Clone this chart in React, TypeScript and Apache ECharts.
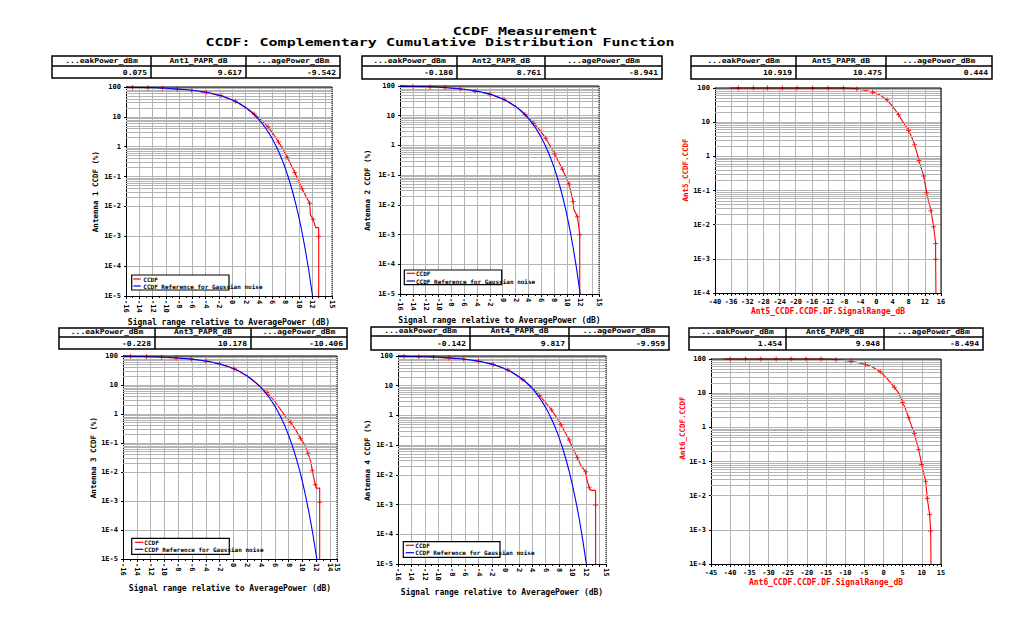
import React, { useEffect, useRef } from 'react';
import * as echarts from 'echarts';

const FONT = '"DejaVu Sans Mono", "Liberation Mono", monospace';
const GRID_C = '#b4b4b4';
const RED = '#ff0000';
const BLUE = '#0000ff';

// ---------------- texts ----------------
const titleMain = 'CCDF Measurement';
const titleSub = 'CCDF: Complementary Cumulative Distribution Function';
const headPeak = '...eakPower_dBm';
const headAvg = '...agePower_dBm';
const paprHeaders = ['Ant1_PAPR_dB', 'Ant2_PAPR_dB', 'Ant5_PAPR_dB', 'Ant3_PAPR_dB', 'Ant4_PAPR_dB', 'Ant6_PAPR_dB'];
const peakValues = ['0.075', '-0.180', '10.919', '-0.228', '-0.142', '1.454'];
const paprValues = ['9.617', '8.761', '10.475', '10.178', '9.817', '9.948'];
const avgValues = ['-9.542', '-8.941', '0.444', '-10.406', '-9.959', '-8.494'];
const yAxisNames = ['Antenna 1 CCDF (%)', 'Antenna 2 CCDF (%)', 'Ant5_CCDF.CCDF', 'Antenna 3 CCDF (%)', 'Antenna 4 CCDF (%)', 'Ant6_CCDF.CCDF'];
const xAxisNames = [
  'Signal range relative to AveragePower (dB)',
  'Signal range relative to AveragePower (dB)',
  'Ant5_CCDF.CCDF.DF.SignalRange_dB',
  'Signal range relative to AveragePower (dB)',
  'Signal range relative to AveragePower (dB)',
  'Ant6_CCDF.CCDF.DF.SignalRange_dB',
];
const legendNames = ['CCDF', 'CCDF Reference for Gaussian noise'];

// ---------------- data: [dB, CCDF %, marker] ----------------
const gaussianRef = [
  [-16, 97.5], [-14, 96.1], [-12, 93.9], [-10, 90.5], [-8, 85.4], [-6, 77.8], [-4, 67.2], [-3, 60.5],
  [-2, 53.2], [-1, 45.2], [0, 36.8], [1, 28.4], [2, 20.5], [3, 13.6], [4, 8.1], [4.5, 5.95], [5, 4.23],
  [5.5, 2.86], [6, 1.87], [6.5, 1.14], [7, 0.666], [7.5, 0.361], [8, 0.182], [8.5, 0.0843], [9, 0.0355],
  [9.5, 0.0135], [10, 0.00454], [10.5, 0.00134], [11, 0.00034], [11.5, 0.000073], [12, 0.000013], [12.07, 0.00001],
];

const ant1Ccdf = [
  [-16, 99.5, 0], [-15, 96.5, 1], [-12.7, 93.5, 1], [-10.5, 90, 1], [-8.3, 84, 1], [-6.1, 76.5, 1],
  [-3.9, 65.5, 1], [-1.7, 50.5, 1], [0.5, 33.5, 1], [2.4, 18, 0], [3.3, 12.5, 1], [4.3, 7.9, 0],
  [5.4, 4.55, 1], [6.2, 2.6, 0], [6.95, 1.43, 1], [7.6, 0.85, 0], [8.25, 0.448, 1], [8.8, 0.26, 0],
  [9.4, 0.137, 1], [10.0, 0.068, 0], [10.5, 0.0389, 1], [11.1, 0.021, 0], [11.65, 0.0129, 1],
  [11.75, 0.0052, 0], [12.15, 0.0037, 1], [12.55, 0.00195, 0], [13.0, 0.00195, 0], [13.0, 0.00098, 1],
  [13.0, 0.00001, 0],
];

const ant2Ccdf = [
  [-16, 99.5, 0], [-14, 96.5, 1], [-11.3, 93, 1], [-9, 88.5, 1], [-6.6, 79.5, 1], [-4.3, 66.5, 1],
  [-2.0, 52.5, 1], [0.2, 35.5, 1], [2.3, 18.5, 0], [3.5, 11, 1], [4.84, 5.55, 1], [5.8, 3.2, 0],
  [6.71, 1.73, 1], [7.4, 0.95, 0], [8.1, 0.514, 1], [8.7, 0.29, 0], [9.3, 0.157, 1], [9.8, 0.09, 0],
  [10.33, 0.0504, 1], [10.96, 0.0129, 1], [11.06, 0.00745, 0], [11.63, 0.004, 1], [11.8, 0.0022, 0],
  [12.0, 0.00098, 1], [12.0, 0.00001, 0],
];

const ant5Ccdf = [
  [-36.3, 100, 0], [-34.2, 100, 1], [-30.5, 100, 1], [-27, 100, 1], [-23.3, 100, 1], [-19.7, 100, 1],
  [-15.8, 100, 1], [-12, 100, 1], [-8.2, 99.5, 1], [-6.5, 98, 0], [-4.85, 93.5, 1], [-2.9, 86, 0],
  [-0.96, 76.3, 1], [0.9, 62, 0], [2.6, 45.4, 1], [4.0, 29, 0], [5.5, 16.5, 1], [6.6, 10, 0],
  [7.97, 5.71, 1], [8.8, 3.5, 0], [9.46, 2.17, 1], [10.0, 1.3, 0], [10.54, 0.751, 1], [11.1, 0.45, 0],
  [11.7, 0.267, 1], [12.44, 0.0863, 1], [13.0, 0.045, 0], [13.52, 0.0256, 1], [14.18, 0.00867, 1],
  [14.67, 0.00281, 1], [14.67, 0.000975, 1], [14.75, 0.0001, 0],
];

const ant3Ccdf = [
  [-16, 99.5, 0], [-14.9, 97, 1], [-12.6, 94, 1], [-10.4, 90.5, 1], [-8.3, 85.5, 1], [-6.1, 77.5, 1],
  [-4.0, 67, 1], [-2.0, 53, 1], [0.1, 36, 1], [2.0, 20.5, 0], [3.8, 9.3, 0], [4.86, 5.47, 1],
  [5.83, 3.05, 0], [6.69, 1.58, 0], [7.56, 0.815, 0], [8.29, 0.52, 1], [9.11, 0.262, 0], [9.69, 0.146, 1],
  [10.32, 0.0863, 0], [10.8, 0.0446, 1], [11.19, 0.023, 0], [11.43, 0.011, 1], [11.67, 0.00582, 0],
  [11.86, 0.00363, 1], [12.0, 0.00278, 0], [12.49, 0.00278, 0], [12.49, 0.00091, 1], [12.49, 0.00001, 0],
];

const ant4Ccdf = [
  [-16, 99.5, 0], [-15.1, 97, 1], [-12.9, 94, 1], [-10.7, 90.5, 1], [-8.4, 85, 1], [-6.2, 77, 1],
  [-4, 66.5, 1], [-1.8, 51.5, 1], [0.4, 34, 1], [2.6, 16, 1], [3.9, 9.3, 0], [5.14, 4.6, 1],
  [6.0, 2.7, 0], [6.89, 1.52, 1], [7.6, 0.88, 0], [8.28, 0.498, 1], [8.9, 0.27, 0], [9.52, 0.148, 1],
  [10.1, 0.075, 0], [10.72, 0.0374, 1], [11.3, 0.02, 0], [11.96, 0.0126, 1], [12.11, 0.0075, 0],
  [12.5, 0.0037, 1], [12.75, 0.003, 0], [13.45, 0.003, 0], [13.45, 0.00096, 1], [13.45, 0.00001, 0],
];

const ant6Ccdf = [
  [-41.7, 100, 0], [-40, 100, 1], [-36, 100, 1], [-32, 100, 1], [-28, 100, 1], [-24.1, 100, 1],
  [-20.2, 100, 1], [-16.3, 99.5, 1], [-14, 98, 0], [-12.4, 95.5, 1], [-10.5, 91, 0], [-8.5, 85.5, 1],
  [-6.5, 78, 0], [-4.7, 69, 1], [-3, 59.6, 0], [-0.83, 42.5, 1], [0.91, 27.1, 0], [2.83, 14.8, 1],
  [3.96, 10, 0], [5.0, 5.37, 1], [5.8, 3.3, 0], [6.57, 1.9, 1], [7.3, 1.1, 0], [8.04, 0.662, 1],
  [8.6, 0.38, 0], [9.17, 0.225, 1], [9.96, 0.0817, 1], [10.5, 0.045, 0], [11.0, 0.0265, 1],
  [11.43, 0.00822, 1], [12.04, 0.00279, 1], [12.3, 0.000927, 1], [12.39, 0.0001, 0],
];

const measured = [ant1Ccdf, ant2Ccdf, ant5Ccdf, ant3Ccdf, ant4Ccdf, ant6Ccdf];
const hasReference = [true, true, false, true, true, false];

// axis ranges
const xMin = [-16, -16, -40, -16, -16, -45];
const xMax = [15, 15, 16, 15, 15, 15];
const xStep = [2, 2, 4, 2, 2, 5];
const xMinorSplit = [2, 2, 4, 2, 2, 5];
const yMin = [1e-5, 1e-5, 1e-4, 1e-5, 1e-5, 1e-4];
const yMax = [100, 100, 100, 100, 100, 100];

// ---------------- layout ----------------
const GRIDS = [
  { left: 126, top: 87, width: 206, height: 209 },
  { left: 400, top: 86, width: 199, height: 208 },
  { left: 715, top: 88, width: 226, height: 205 },
  { left: 123, top: 356, width: 214, height: 203 },
  { left: 398, top: 356, width: 208, height: 208 },
  { left: 711, top: 359, width: 230, height: 205 },
];
const X_NAME_GAP = [22, 22, 14, 25, 24, 14];
const Y_NAME_GAP = [27, 29, 28, 26, 27, 26];
// free-placed y names (raw-variable panels): [x, y]
const Y_NAME_POS: Record<number, number[]> = { 2: [685, 170], 5: [682, 428] };
const TABLES = [
  { x: [52, 151, 246, 340], y: [56, 66, 78] },
  { x: [362, 457, 545, 662], y: [56, 66, 79] },
  { x: [691, 796, 886, 992], y: [56, 66, 79] },
  { x: [59, 155, 251, 347], y: [328, 337, 349] },
  { x: [371, 470, 569, 669], y: [327, 336, 350] },
  { x: [689, 786, 884, 983], y: [328, 337, 350] },
];
const LEGENDS: Record<number, any> = {
  0: { box: [131.7, 275, 97.3, 15], ry: 279, by: 286, lx: [133.3, 140.7], tx: 143.3 },
  1: { box: [404.3, 270, 97.4, 14.7], ry: 273.3, by: 281, lx: [406.7, 415], tx: 416 },
  3: { box: [131.7, 538.3, 97.6, 16], ry: 542.3, by: 549.3, lx: [135, 143.3], tx: 144.3 },
  4: { box: [403.3, 541.7, 96.7, 15.6], ry: 545.3, by: 552.7, lx: [405.7, 414], tx: 415.3 },
};

const PLUS = 'path://M2,0H3V2H5V3H3V5H2V3H0V2H2Z';

function logLabel(v: number) {
  const e = Math.round(Math.log10(v));
  if (e === 2) return '100';
  if (e === 1) return '10';
  if (e === 0) return '1';
  return '1E' + e;
}

function minorValues(lo: number, hi: number) {
  const out: any[] = [];
  const a = Math.round(Math.log10(lo));
  const b = Math.round(Math.log10(hi));
  for (let d = a; d < b; d++) {
    for (let k = 2; k <= 9; k++) out.push({ yAxis: k * Math.pow(10, d) });
  }
  return out;
}

function text(x: number, y: number, t: string, size: number, opts: any = {}) {
  const align = opts.align || 'center';
  return {
    type: 'text',
    x,
    y,
    scaleX: opts.sx || 1,
    rotation: opts.rotation || 0,
    z: 30,
    silent: true,
    style: {
      text: t,
      font: `bold ${size}px ${FONT}`,
      fill: opts.color || '#000',
      textAlign: align,
      align,
      textVerticalAlign: 'middle',
      verticalAlign: 'middle',
    },
  };
}

function line(x1: number, y1: number, x2: number, y2: number, color = '#000', width = 1, dash?: number[]) {
  return {
    type: 'line',
    z: 25,
    silent: true,
    shape: { x1, y1, x2, y2 },
    style: { stroke: color, lineWidth: width, lineDash: dash || null },
  };
}

function buildOption() {
  const xAxis: any[] = [];
  const yAxis: any[] = [];
  const series: any[] = [];
  const elements: any[] = [];

  GRIDS.forEach((g, i) => {
    const antenna = hasReference[i];
    const nameColor = antenna ? '#000' : RED;
    const freeName = Y_NAME_POS[i];
    xAxis.push({
      type: 'value',
      gridIndex: i,
      min: xMin[i],
      max: xMax[i],
      interval: xStep[i],
      axisLine: { show: true, onZero: false, lineStyle: { color: '#000', width: 1 } },
      axisTick: { show: true, length: 3, lineStyle: { color: '#000' } },
      minorTick: { show: true, splitNumber: xMinorSplit[i], length: 2, lineStyle: { color: '#000' } },
      axisLabel: {
        rotate: antenna ? -90 : 0,
        fontSize: 7,
        fontFamily: FONT,
        fontWeight: 'bold',
        color: '#000',
        margin: antenna ? 4 : 5,
        showMinLabel: true,
        showMaxLabel: true,
      },
      splitLine: { show: true, lineStyle: { color: GRID_C, width: 1 } },
      name: xAxisNames[i],
      nameLocation: 'middle',
      nameGap: X_NAME_GAP[i],
      nameTextStyle: { fontFamily: FONT, fontSize: 8, fontWeight: 'bold', color: nameColor },
    });
    yAxis.push({
      type: 'log',
      logBase: 10,
      gridIndex: i,
      min: yMin[i],
      max: yMax[i],
      axisLine: { show: true, onZero: false, lineStyle: { color: '#000', width: 1 } },
      axisTick: { show: true, length: 2, lineStyle: { color: '#000' } },
      axisLabel: {
        formatter: logLabel,
        fontSize: 7,
        fontFamily: FONT,
        fontWeight: 'bold',
        color: '#000',
        margin: 5,
      },
      splitLine: { show: true, lineStyle: { color: GRID_C, width: 1 } },
      name: freeName ? '' : yAxisNames[i],
      nameLocation: 'middle',
      nameGap: Y_NAME_GAP[i],
      nameTextStyle: { fontFamily: FONT, fontSize: 7.5, fontWeight: 'bold', color: nameColor },
    });
    if (freeName) {
      elements.push(
        text(freeName[0], freeName[1], yAxisNames[i], 7.5, { rotation: Math.PI / 2, color: RED })
      );
    }

    // minor log grid lines
    series.push({
      type: 'line',
      xAxisIndex: i,
      yAxisIndex: i,
      data: [],
      silent: true,
      symbol: 'none',
      z: 1,
      markLine: {
        silent: true,
        symbol: ['none', 'none'],
        label: { show: false },
        emphasis: { disabled: true },
        lineStyle: { color: GRID_C, width: 1, type: 'solid' },
        data: minorValues(yMin[i], yMax[i]),
      },
    });

    const meas = measured[i];
    series.push({
      type: 'line',
      name: legendNames[0],
      xAxisIndex: i,
      yAxisIndex: i,
      data: meas.map((p) => [p[0], p[1]]),
      symbol: 'none',
      clip: false,
      lineStyle: { color: RED, width: 1.1 },
      itemStyle: { color: RED },
      z: 4,
    });
    series.push({
      type: 'scatter',
      xAxisIndex: i,
      yAxisIndex: i,
      data: meas.filter((p) => p[2]).map((p) => [p[0], p[1]]),
      symbol: PLUS,
      symbolSize: 5,
      clip: false,
      itemStyle: { color: RED },
      z: 5,
    });
    if (antenna) {
      series.push({
        type: 'line',
        name: legendNames[1],
        xAxisIndex: i,
        yAxisIndex: i,
        data: gaussianRef,
        symbol: 'none',
        clip: false,
        lineStyle: { color: BLUE, width: 1.1 },
        itemStyle: { color: BLUE },
        z: 6,
      });
    }

    // frame: top and right borders
    elements.push(line(g.left, g.top, g.left + g.width, g.top, '#000', 1));
    elements.push(
      line(g.left + g.width, g.top, g.left + g.width, g.top + g.height, '#000', 1, antenna ? [1, 1] : undefined)
    );

    // table
    const t = TABLES[i];
    elements.push({
      type: 'rect',
      z: 25,
      silent: true,
      shape: { x: t.x[0], y: t.y[0], width: t.x[3] - t.x[0], height: t.y[2] - t.y[0] },
      style: { fill: '#fff', stroke: '#000', lineWidth: 1.5 },
    });
    elements.push(line(t.x[0], t.y[1], t.x[3], t.y[1], '#000', 1.5));
    elements.push(line(t.x[1], t.y[0], t.x[1], t.y[2], '#000', 1.5));
    elements.push(line(t.x[2], t.y[0], t.x[2], t.y[2], '#000', 1.5));
    const heads = [headPeak, paprHeaders[i], headAvg];
    const vals = [peakValues[i], paprValues[i], avgValues[i]];
    const hy = (t.y[0] + t.y[1]) / 2 - 0.5;
    const vy = (t.y[1] + t.y[2]) / 2 + 0.5;
    for (let c = 0; c < 3; c++) {
      elements.push(text((t.x[c] + t.x[c + 1]) / 2, hy, heads[c], 7, { sx: 1.15 }));
      elements.push(text(t.x[c + 1] - 4, vy, vals[c], 7, { sx: 1.15, align: 'right' }));
    }

    // legend
    const L = LEGENDS[i];
    if (L) {
      elements.push({
        type: 'rect',
        z: 26,
        silent: true,
        shape: { x: L.box[0], y: L.box[1], width: L.box[2], height: L.box[3] },
        style: { fill: '#fff', stroke: '#000', lineWidth: 1.2 },
      });
      const l1 = line(L.lx[0], L.ry, L.lx[1], L.ry, RED, 1.2);
      const l2 = line(L.lx[0], L.by, L.lx[1], L.by, BLUE, 1.2);
      l1.z = 27;
      l2.z = 27;
      elements.push(l1, l2);
      elements.push(text(L.tx, L.ry, legendNames[0], 6, { align: 'left' }));
      elements.push(text(L.tx, L.by, legendNames[1], 6, { align: 'left' }));
    }
  });

  // titles
  elements.push(text(525, 31, titleMain, 10, { sx: 1.5 }));
  elements.push(text(440, 42, titleSub, 10, { sx: 1.5 }));

  return {
    animation: false,
    backgroundColor: '#fff',
    grid: GRIDS.map((g) => ({ ...g, show: false, containLabel: false, outerBoundsMode: 'none' })),
    xAxis,
    yAxis,
    series,
    graphic: { elements },
  };
}

export default function App() {
  const ref = useRef<HTMLDivElement>(null);
  useEffect(() => {
    const chart = echarts.init(ref.current as HTMLDivElement, null, { renderer: 'svg' });
    chart.setOption(buildOption() as any);
    return () => chart.dispose();
  }, []);
  return (
    <div
      ref={ref}
      style={{ position: 'fixed', left: 0, top: 0, width: 1018, height: 627, background: '#fff' }}
    />
  );
}
